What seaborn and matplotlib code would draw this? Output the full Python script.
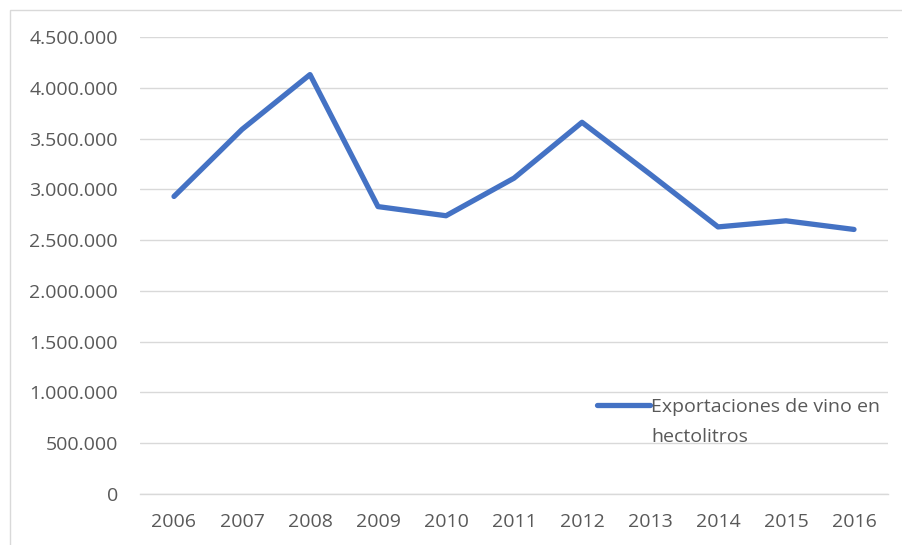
import matplotlib
matplotlib.use('Agg')
import matplotlib.pyplot as plt
import matplotlib.ticker as mticker
from matplotlib.patches import Rectangle
import seaborn as sns
import pandas as pd

years = [2006, 2007, 2008, 2009, 2010, 2011, 2012, 2013, 2014, 2015, 2016]
exports = [2930000, 3590000, 4130000, 2830000, 2740000, 3110000, 3660000, 3150000, 2630000, 2690000, 2605000]
series_label = 'Exportaciones de vino en'
series_label2 = 'hectolitros'

df = pd.DataFrame({'Year': years, 'Hectolitros': exports})

sns.set_style('white')
plt.rcParams['font.family'] = ['Open Sans', 'DejaVu Sans']

fig = plt.figure(figsize=(9.02, 5.45), dpi=100)
ax = fig.add_axes([140/902, 1 - 494/545, 748/902, 457/545])

# chart frame (cropped at right and bottom)
fig.patches.append(Rectangle((10/902, -0.05), 1.0, 1 - 10/545 + 0.05, transform=fig.transFigure,
                             fill=False, edgecolor='#d9d9d9', linewidth=1.0))

sns.lineplot(data=df, x='Year', y='Hectolitros', ax=ax, color='#4472C4', linewidth=3.8,
             label=series_label, solid_capstyle='round')

ax.set_xlim(2005.5, 2016.5)
ax.set_ylim(0, 4500000)
ax.set_yticks(range(0, 4500001, 500000))
ax.set_xticks(years)
ax.yaxis.set_major_formatter(mticker.FuncFormatter(lambda v, p: f'{int(v):,}'.replace(',', '.')))
ax.grid(axis='y', color='#d9d9d9', linewidth=1.0)
ax.grid(axis='x', visible=False)
ax.set_axisbelow(True)
for s in ax.spines.values():
    s.set_visible(False)
ax.spines['bottom'].set_visible(True)
ax.spines['bottom'].set_color('#d9d9d9')
ax.spines['bottom'].set_linewidth(1.0)
ax.tick_params(axis='both', length=0, labelsize=14, labelcolor='#595959')
ax.tick_params(axis='y', pad=16)
ax.tick_params(axis='x', pad=14)
ax.set_xlabel('')
ax.set_ylabel('')

leg = ax.legend(loc='center left', bbox_to_anchor=(0.611, 0.19), frameon=False,
                borderpad=0, borderaxespad=0, handletextpad=0.1, handlelength=2.7,
                fontsize=14)
for t in leg.get_texts():
    t.set_color('#595959')
ax.text(0.684, 0.125, series_label2, transform=ax.transAxes, fontsize=14,
        color='#595959', va='center', ha='left')

fig.savefig('out.png', dpi=100)
